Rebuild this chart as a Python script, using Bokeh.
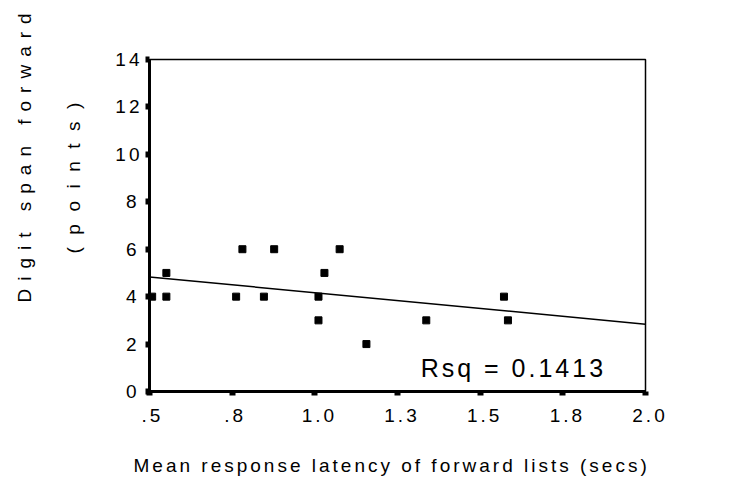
from bokeh.plotting import figure
from bokeh.layouts import row
from bokeh.models import Range1d, FixedTicker, Label, Title, InlineStyleSheet
from bokeh.embed import file_html
from bokeh.resources import INLINE

# ---- data ----
latency = [0.508, 0.551, 0.551, 0.762, 0.781, 0.846, 0.877, 1.011, 1.011,
           1.029, 1.075, 1.156, 1.337, 1.572, 1.584]
digit_span = [4, 5, 4, 4, 6, 4, 6, 4, 3, 5, 6, 2, 3, 4, 3]
fit_x = [0.5, 2.0]
fit_y = [4.83, 2.84]
x_ticks = [0.5, 0.75, 1.0, 1.25, 1.5, 1.75, 2.0]
x_tick_labels = [".5", ".8", "1.0", "1.3", "1.5", "1.8", "2.0"]
y_ticks = [0, 2, 4, 6, 8, 10, 12, 14]
y_tick_labels = ["0", "2", "4", "6", "8", "10", "12", "14"]
rsq_text = "Rsq = 0.1413"
x_title = "Mean response latency of forward lists (secs)"
y_title_1 = "Digit span forward"
y_title_2 = "(points)"

FONT = "Liberation Sans"
FS = "19px"


def title_strip(text, offset, spacing):
    # narrow companion figure that only carries one vertical title
    f = figure(frame_width=1, frame_height=332, output_backend="svg", toolbar_location=None,
               x_axis_location=None, y_axis_location=None, title=None,
               min_border_left=0, min_border_right=0, min_border_top=59, min_border_bottom=5,
               align="start")
    f.stylesheets = [InlineStyleSheet(css=":host { letter-spacing: %spx; }" % spacing)]
    f.xgrid.visible = False
    f.ygrid.visible = False
    f.outline_line_color = None
    f.background_fill_color = "white"
    f.border_fill_color = "white"
    f.add_layout(Title(text=text, align="left", offset=offset, standoff=25,
                       vertical_align="middle",
                       text_font=FONT, text_font_size=FS, text_font_style="normal",
                       text_color="black"), "left")
    return f


fy1 = title_strip(y_title_1, 89, 8)
fy2 = title_strip(y_title_2, 138, 12.5)

# ---- main scatter ----
p = figure(frame_width=496, frame_height=332, output_backend="svg", toolbar_location=None,
           x_range=Range1d(0.5, 2.0), y_range=Range1d(0, 14),
           min_border_left=51, min_border_right=100,
           min_border_top=59, min_border_bottom=90, align="start")
p.stylesheets = [InlineStyleSheet(css=":host { letter-spacing: 3px; }")]

p.background_fill_color = "white"
p.border_fill_color = "white"
p.xgrid.visible = False
p.ygrid.visible = False
p.outline_line_color = "black"
p.outline_line_width = 1.5

for ax in (p.xaxis[0], p.yaxis[0]):
    ax.axis_line_width = 3
    ax.axis_line_color = "black"
    ax.major_tick_in = 0
    ax.major_tick_out = 4
    ax.major_tick_line_width = 6
    ax.major_tick_line_color = "black"
    ax.minor_tick_line_color = None
    ax.major_label_text_font = FONT
    ax.major_label_text_font_size = FS
    ax.major_label_text_color = "black"

p.xaxis.ticker = FixedTicker(ticks=x_ticks)
p.xaxis.major_label_overrides = {t: l for t, l in zip(x_ticks, x_tick_labels)}
p.xaxis.major_label_standoff = 13

p.yaxis.ticker = FixedTicker(ticks=y_ticks)
p.yaxis.major_label_overrides = {t: l for t, l in zip(y_ticks, y_tick_labels)}
p.yaxis.major_label_standoff = 9

p.add_layout(Title(text=x_title, align="left", offset=-16, standoff=56,
                   text_font=FONT, text_font_size=FS, text_font_style="normal",
                   text_color="black"), "below")

p.line(fit_x, fit_y, line_color="black", line_width=1.5)
p.scatter(latency, digit_span, marker="square", size=7, fill_color="black", line_color="black")

p.add_layout(Label(x=1.32, y=0.97, text=rsq_text, text_align="left", text_baseline="alphabetic",
                   text_font=FONT, text_font_size="25px", text_color="black"))

layout = row(fy1, fy2, p, align="start")
open("out.html", "w").write(file_html(layout, INLINE))
